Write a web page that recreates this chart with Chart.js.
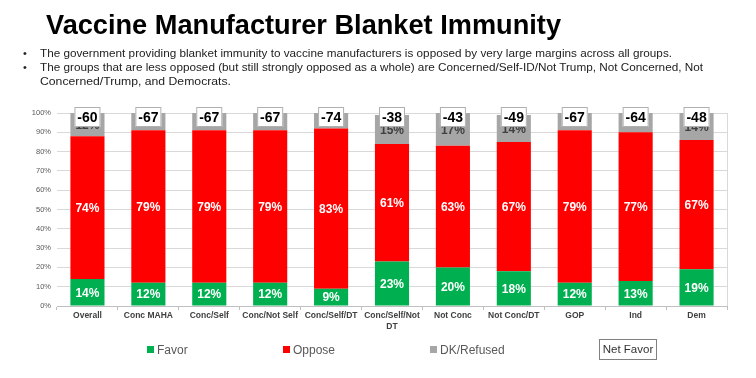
<!DOCTYPE html>
<html>
<head>
<meta charset="utf-8">
<script src="https://cdn.jsdelivr.net/npm/chart.js@4.4.1/dist/chart.umd.min.js"></script>
<style>
  body { margin: 0; width: 756px; height: 378px; background: #fff; position: relative; overflow: hidden;
         font-family: "Liberation Sans", Arial, sans-serif; }
  #chartWrap { position: absolute; left: 0; top: 0; width: 756px; height: 378px; }
  .fit { position: absolute; white-space: nowrap; transform-origin: 0 0; }
  #title { left: 46px; top: 11px; font-size: 28px; line-height: 28px; font-weight: bold; color: #000; }
  .bul { font-size: 11px; line-height: 14px; color: #222; }
  .dot { position: absolute; left: 23px; font-size: 11px; line-height: 14px; color: #222; }
  .leg { position: absolute; font-size: 12px; line-height: 14px; color: #595959; white-space: nowrap; }
  .leg i { display: inline-block; width: 7px; height: 7px; margin-right: 3px; vertical-align: 1px; }
  #netBox { position: absolute; left: 599px; top: 339px; width: 56px; height: 19px; border: 1.5px solid #808080;
            font-size: 11.5px; line-height: 19px; text-align: center; color: #333; }
</style>
</head>
<body>
<div id="chartWrap"><canvas id="chart"></canvas></div>
<div id="title" class="fit" data-w="515">Vaccine Manufacturer Blanket Immunity</div>
<div class="dot" style="top:46px">•</div>
<div class="dot" style="top:60px">•</div>
<div class="fit bul" style="left:40px;top:46px" data-w="632">The government providing blanket immunity to vaccine manufacturers is opposed by very large margins across all groups.</div>
<div class="fit bul" style="left:40px;top:60px" data-w="663">The groups that are less opposed (but still strongly opposed as a whole) are Concerned/Self-ID/Not Trump, Not Concerned, Not</div>
<div class="fit bul" style="left:40px;top:74px" data-w="191">Concerned/Trump, and Democrats.</div>
<div id="legend"></div>
<div id="netBox">Net Favor</div>
<script>
// chart data
var categories = ['Overall', 'Conc MAHA', 'Conc/Self', 'Conc/Not Self', 'Conc/Self/DT', ['Conc/Self/Not', 'DT'], 'Not Conc', 'Not Conc/DT', 'GOP', 'Ind', 'Dem'];
var favor = [14, 12, 12, 12, 9, 23, 20, 18, 12, 13, 19];
var oppose = [74, 79, 79, 79, 83, 61, 63, 67, 79, 77, 67];
var dkRefused = [12, 9, 9, 9, 8, 15, 17, 14, 9, 10, 14];
var netFavor = [-60, -67, -67, -67, -74, -38, -43, -49, -67, -64, -48];
var seriesNames = ['Favor', 'Oppose', 'DK/Refused'];
var seriesColors = ['#00b050', '#ff0000', '#a6a6a6'];
var yTicks = [0, 10, 20, 30, 40, 50, 60, 70, 80, 90, 100];

// squeeze the slide text to its original width
document.querySelectorAll('.fit').forEach(function (el) {
    var w = el.getBoundingClientRect().width;
    el.style.transform = 'scaleX(' + (el.dataset.w / w) + ')';
});

// legend in the slide's spots
var legX = [147, 283, 430];
var leg = document.getElementById('legend');
seriesNames.forEach(function (n, i) {
    var d = document.createElement('div');
    d.className = 'leg';
    d.style.left = legX[i] + 'px';
    d.style.top = '343px';
    d.innerHTML = '<i style="background:' + seriesColors[i] + '"></i>' + n;
    leg.appendChild(d);
});

var labelPlugin = {
    id: 'barLabels',
    afterDatasetsDraw: function (chart) {
        var ctx = chart.ctx;
        var area = chart.chartArea;
        ctx.save();
        ctx.beginPath();
        ctx.rect(area.left, area.top, area.right - area.left, area.bottom - area.top);
        ctx.clip();
        ctx.textAlign = 'center';
        ctx.textBaseline = 'middle';
        ctx.font = 'bold 12px "Liberation Sans", Arial, sans-serif';
        chart.data.datasets.forEach(function (ds, i) {
            ctx.fillStyle = i === 2 ? '#404040' : '#ffffff';
            chart.getDatasetMeta(i).data.forEach(function (bar, j) {
                ctx.fillText(ds.data[j] + '%', bar.x, (bar.y + bar.base) / 2 + 1);
            });
        });
        ctx.restore();

        // net favor boxes
        ctx.save();
        var top = chart.scales.y.getPixelForValue(100) - 6;
        ctx.font = 'bold 14px "Liberation Sans", Arial, sans-serif';
        ctx.textAlign = 'center';
        ctx.textBaseline = 'middle';
        chart.getDatasetMeta(0).data.forEach(function (bar, j) {
            ctx.fillStyle = '#ffffff';
            ctx.fillRect(bar.x - 13, top, 26, 20);
            ctx.strokeStyle = '#b0b0b0';
            ctx.lineWidth = 1;
            ctx.strokeRect(bar.x - 12.5, top + 0.5, 25, 19);
            ctx.fillStyle = '#000000';
            ctx.fillText(netFavor[j], bar.x, top + 11);
        });
        // right edge of plot
        ctx.strokeStyle = '#d9d9d9';
        ctx.beginPath();
        ctx.moveTo(area.right + 0.5, area.top);
        ctx.lineTo(area.right + 0.5, area.bottom);
        ctx.stroke();
        ctx.restore();
    }
};

var ctx = document.getElementById('chart').getContext('2d');
var chart = new Chart(ctx, {
    type: 'bar',
    data: {
        labels: categories,
        datasets: [
            { label: seriesNames[0], data: favor, backgroundColor: seriesColors[0] },
            { label: seriesNames[1], data: oppose, backgroundColor: seriesColors[1] },
            { label: seriesNames[2], data: dkRefused, backgroundColor: seriesColors[2] }
        ]
    },
    options: {
        responsive: false,
        animation: false,
        categoryPercentage: 1,
        barPercentage: 0.56,
        layout: { padding: { top: 113, bottom: 42, left: 0, right: 29 } },
        plugins: { legend: { display: false }, tooltip: { enabled: false } },
        scales: {
            x: {
                stacked: true,
                grid: { drawOnChartArea: false, offset: true, tickLength: 4, color: '#bfbfbf' },
                border: { color: '#bfbfbf' },
                ticks: { color: '#404040', padding: 1, maxRotation: 0, autoSkip: false,
                         font: { size: 8.5, weight: 'bold', family: '"Liberation Sans", Arial, sans-serif' } },
                afterFit: function (s) { s.height = 30; }
            },
            y: {
                stacked: true,
                min: 0,
                max: 100,
                afterBuildTicks: function (s) { s.ticks = yTicks.map(function (v) { return { value: v }; }); },
                ticks: { color: '#595959', padding: 6, callback: function (v) { return v + '%'; },
                         font: { size: 7.5, family: '"Liberation Sans", Arial, sans-serif' } },
                grid: { color: '#d9d9d9', drawTicks: false },
                border: { display: false },
                afterFit: function (s) { s.width = 57; }
            }
        }
    },
    plugins: [labelPlugin]
});
chart.resize(756, 378);
</script>
</body>
</html>
